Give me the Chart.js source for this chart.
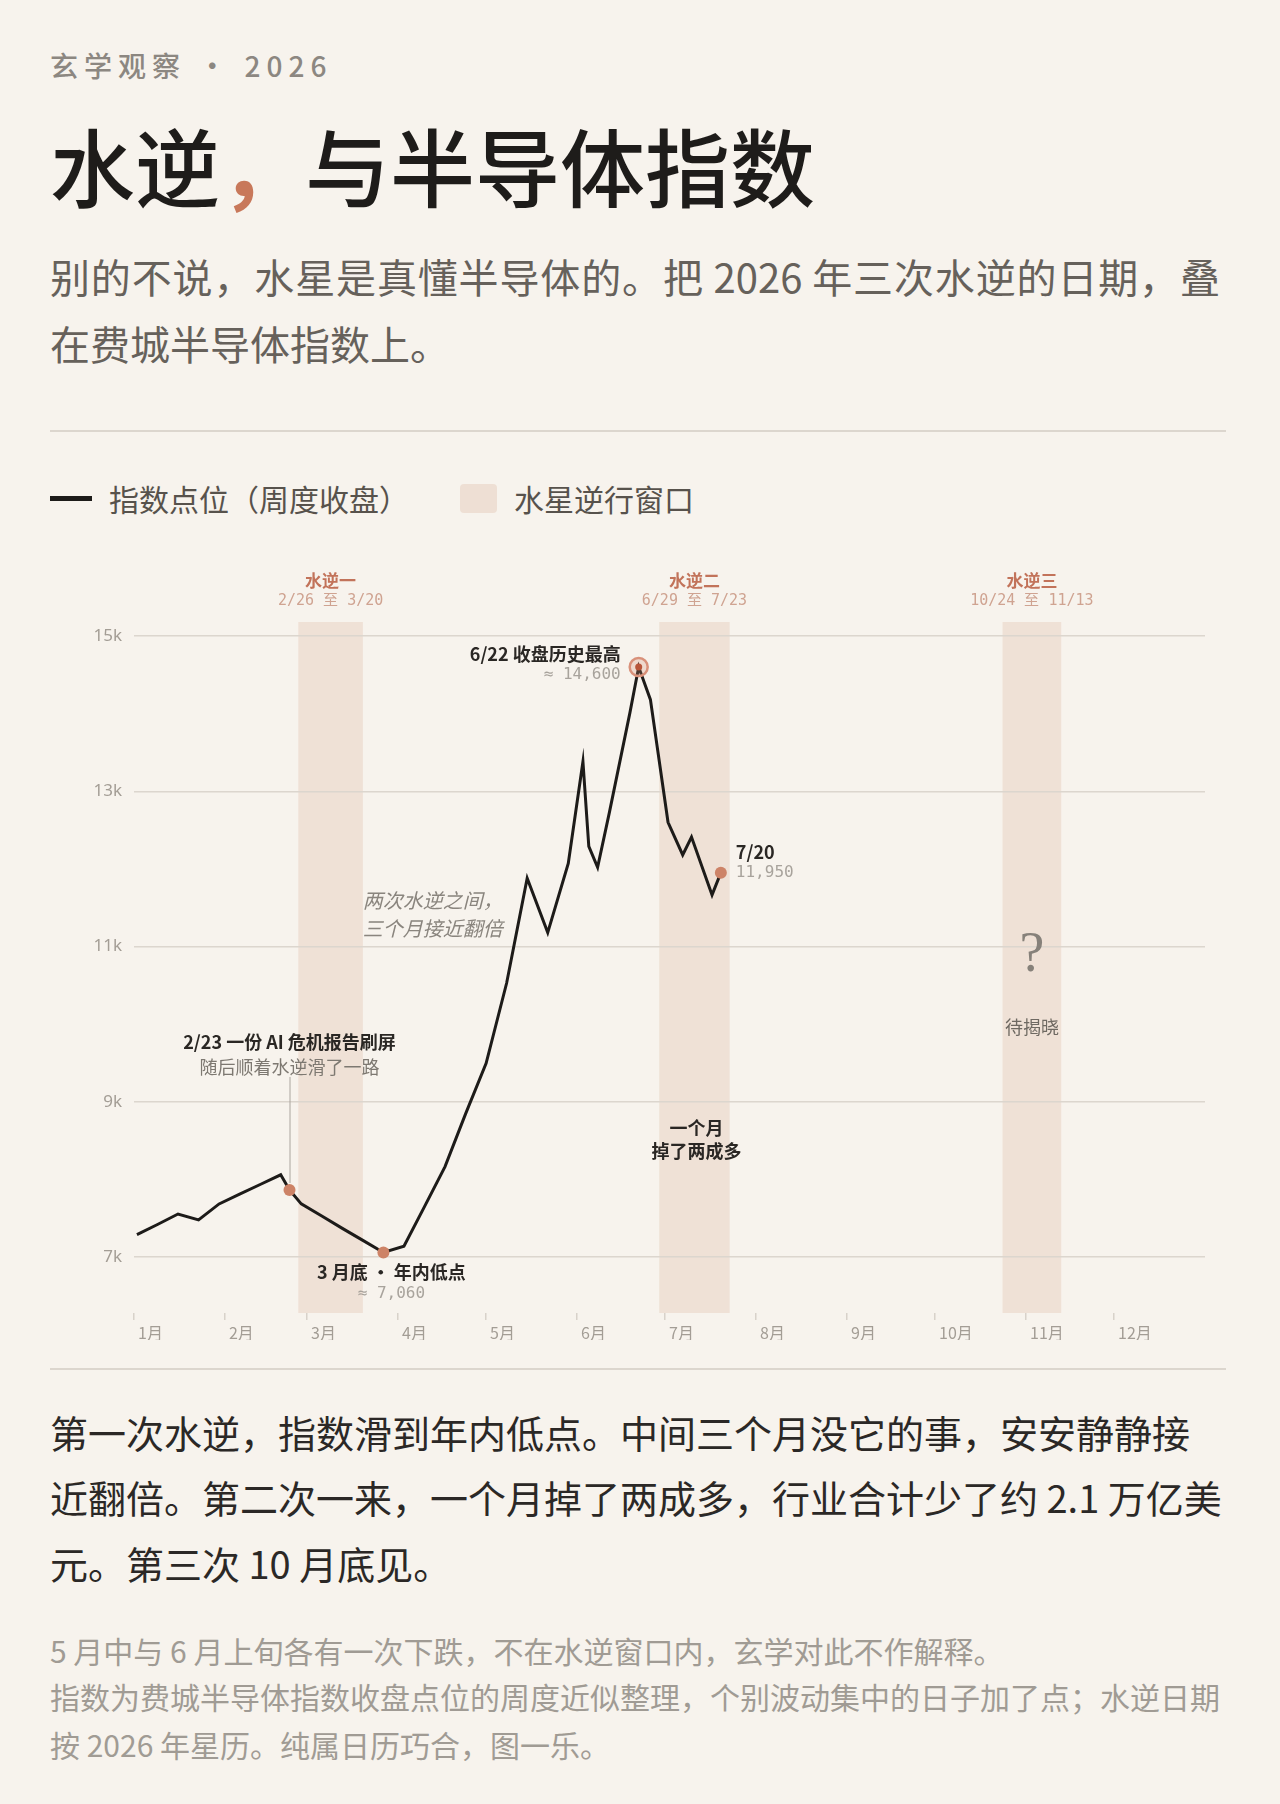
<!DOCTYPE html>
<html lang="zh-CN">
<head>
  <meta charset="UTF-8">
  <title>水逆，与半导体指数</title>
  <script src="https://cdn.jsdelivr.net/npm/chart.js"></script>
  <style>
    body { margin: 0; background: #f7f3ed; }
    .page { position: relative; width: 1280px; height: 1804px; overflow: hidden; font-family: "Noto Sans CJK SC", sans-serif; }
    .abs { position: absolute; left: 50px; white-space: nowrap; }
    .kicker { top: 46px; font-size: 28px; line-height: 38px; color: #8c8781; letter-spacing: 6px; font-weight: 500; }
    .title { top: 112px; font-size: 85px; line-height: 104px; color: #1e1c1a; font-weight: 500; }
    .title .comma { color: #c8785a; font-weight: 700; }
    .sub { font-size: 40px; line-height: 52px; color: #66615b; width: 1170px; }
    .sub.first { text-align: justify; text-align-last: justify; }
    .rule { position: absolute; left: 50px; width: 1176px; height: 2px; background: #dcd6ce; }
    .legend { top: 478px; font-size: 30px; line-height: 40px; color: #57524c; }
    .legend .line { position: absolute; left: 0; top: 18px; width: 42px; height: 5px; background: #1d1b19; }
    .legend .swatch { position: absolute; left: 410px; top: 6px; width: 37px; height: 29px; border-radius: 4px; background: #eedfd4; }
    .legend .t1 { position: absolute; left: 59px; top: 0; }
    .legend .t2 { position: absolute; left: 464px; top: 0; }
    #chartBox { position: absolute; left: 0; top: 540px; width: 1280px; height: 800px; }
    .para { font-size: 38px; line-height: 50px; color: #2b2826; }
    .note { font-size: 30px; line-height: 40px; color: #a09b94; }
  </style>
</head>
<body>
<div class="page">
  <div class="abs kicker">玄学观察 · 2026</div>
  <div class="abs title">水逆<span class="comma">，</span>与半导体指数</div>
  <div class="abs sub first" style="top:250px">别的不说，水星是真懂半导体的。把 2026 年三次水逆的日期，叠</div>
  <div class="abs sub" style="top:317px">在费城半导体指数上。</div>
  <div class="rule" style="top:430px"></div>

  <div class="abs legend">
    <span class="line"></span><span class="t1">指数点位（周度收盘）</span>
    <span class="swatch"></span><span class="t2">水星逆行窗口</span>
  </div>

  <div id="chartBox"><canvas id="chart" width="1280" height="800"></canvas></div>

  <div class="rule" style="top:1368px"></div>
  <div class="abs para" style="top:1407px">第一次水逆，指数滑到年内低点。中间三个月没它的事，安安静静接</div>
  <div class="abs para" style="top:1472px">近翻倍。第二次一来，一个月掉了两成多，行业合计少了约 2.1 万亿美</div>
  <div class="abs para" style="top:1538px">元。第三次 10 月底见。</div>

  <div class="abs note" style="top:1630px">5 月中与 6 月上旬各有一次下跌，不在水逆窗口内，玄学对此不作解释。</div>
  <div class="abs note" style="top:1676px">指数为费城半导体指数收盘点位的周度近似整理，个别波动集中的日子加了点；水逆日期</div>
  <div class="abs note" style="top:1724px">按 2026 年星历。纯属日历巧合，图一乐。</div>
</div>

<script>
  // 周度收盘（另加几个波动集中的日子）
  var dates = ['1/2', '1/9', '1/16', '1/23', '1/30', '2/6', '2/13', '2/20', '2/23', '2/27',
               '3/6', '3/13', '3/20', '3/27', '4/3', '4/10', '4/17', '4/24', '5/1', '5/8',
               '5/15', '5/22', '5/29', '6/3', '6/5', '6/8', '6/12', '6/19', '6/22', '6/26',
               '7/2', '7/7', '7/10', '7/17', '7/20'];
  var closes = [7290, 7420, 7555, 7480, 7685, 7810, 7935, 8060, 7865, 7685,
                7530, 7370, 7215, 7060, 7140, 7650, 8165, 8845, 9495, 10530,
                11880, 11180, 12070, 13380, 12290, 12020, 12725, 14010, 14600, 14180,
                12600, 12180, 12410, 11665, 11950];

  // 标了点的日子
  var markDates = ['2/23', '3/27', '7/20'];
  var peakDate = '6/22';

  // 水逆窗口
  var retroNames = ['水逆一', '水逆二', '水逆三'];
  var retroStart = ['2/26', '6/29', '10/24'];
  var retroEnd = ['3/20', '7/23', '11/13'];

  // 坐标轴
  var monthLabels = ['1月', '2月', '3月', '4月', '5月', '6月', '7月', '8月', '9月', '10月', '11月', '12月'];
  var monthStarts = ['1/1', '2/1', '3/1', '4/1', '5/1', '6/1', '7/1', '8/1', '9/1', '10/1', '11/1', '12/1'];
  var yTicks = [7000, 9000, 11000, 13000, 15000];

  var FONT = '"Noto Sans CJK SC", sans-serif';
  var MONO = '"DejaVu Sans Mono", monospace';

  function dayOfYear(md) {
    var p = md.split('/').map(Number);
    return (Date.UTC(2026, p[0] - 1, p[1]) - Date.UTC(2026, 0, 1)) / 86400000;
  }
  function closeOn(md) { return closes[dates.indexOf(md)]; }

  var linePoints = dates.map(function (d, i) { return { x: dayOfYear(d), y: closes[i] }; });
  var markPoints = markDates.map(function (d) { return { x: dayOfYear(d), y: closeOn(d) }; });
  var peakPoint = [{ x: dayOfYear(peakDate), y: closeOn(peakDate) }];

  function text(ctx, s, x, y, font, color, align) {
    ctx.font = font;
    ctx.fillStyle = color;
    ctx.textAlign = align || 'left';
    ctx.textBaseline = 'middle';
    ctx.fillText(s, x, y);
  }

  // 水逆窗口的底色
  var bandsPlugin = {
    id: 'retroBands',
    beforeDraw: function (chart) {
      var ctx = chart.ctx, a = chart.chartArea, xs = chart.scales.x;
      ctx.save();
      ctx.fillStyle = '#efe1d6';
      for (var i = 0; i < retroStart.length; i++) {
        var x1 = xs.getPixelForValue(dayOfYear(retroStart[i]));
        var x2 = xs.getPixelForValue(dayOfYear(retroEnd[i]));
        ctx.fillRect(x1, a.top, x2 - x1, a.bottom - a.top);
      }
      ctx.restore();
    },
    afterDraw: function (chart) {
      var ctx = chart.ctx, a = chart.chartArea, xs = chart.scales.x;
      ctx.save();
      for (var i = 0; i < retroStart.length; i++) {
        var cx = (xs.getPixelForValue(dayOfYear(retroStart[i])) + xs.getPixelForValue(dayOfYear(retroEnd[i]))) / 2;
        text(ctx, retroNames[i], cx, a.top - 41, '700 17px ' + FONT, '#c2735a', 'center');
        text(ctx, retroStart[i] + ' 至 ' + retroEnd[i], cx, a.top - 21, '400 15px ' + MONO, '#cfa391', 'center');
      }
      ctx.restore();
    }
  };

  // 图上的注释
  var notesPlugin = {
    id: 'notes',
    afterDatasetsDraw: function (chart) {
      var ctx = chart.ctx, xs = chart.scales.x, ys = chart.scales.y;
      var px = function (d) { return xs.getPixelForValue(dayOfYear(d)); };
      var py = function (v) { return ys.getPixelForValue(v); };
      var dark = '#2a2724', grey = '#a8a39c';
      ctx.save();

      // 6/22 最高
      var P = { x: px(peakDate), y: py(closeOn(peakDate)) };
      text(ctx, '6/22 收盘历史最高', P.x - 18, P.y - 13, '700 18px ' + FONT, dark, 'right');
      text(ctx, '≈ 14,600', P.x - 18, P.y + 8, '400 16px ' + MONO, grey, 'right');

      // 7/20
      var Q = { x: px('7/20'), y: py(closeOn('7/20')) };
      text(ctx, '7/20', Q.x + 15, Q.y - 21, '700 18px ' + FONT, dark, 'left');
      text(ctx, '11,950', Q.x + 15, Q.y, '400 16px ' + MONO, grey, 'left');

      // 2/23
      var A = { x: px('2/23'), y: py(closeOn('2/23')) };
      text(ctx, '2/23 一份 AI 危机报告刷屏', A.x, A.y - 148, '700 18px ' + FONT, dark, 'center');
      text(ctx, '随后顺着水逆滑了一路', A.x, A.y - 123, '400 18px ' + FONT, '#7d7871', 'center');
      ctx.strokeStyle = '#aaa59e';
      ctx.lineWidth = 1;
      ctx.beginPath();
      ctx.moveTo(A.x + 0.5, A.y - 113);
      ctx.lineTo(A.x + 0.5, A.y - 7);
      ctx.stroke();

      // 年内低点
      var L = { x: px('3/27'), y: py(closeOn('3/27')) };
      text(ctx, '3 月底 · 年内低点', L.x + 8, L.y + 20, '700 18px ' + FONT, dark, 'center');
      text(ctx, '≈ 7,060', L.x + 8, L.y + 41, '400 16px ' + MONO, grey, 'center');

      // 两次水逆之间
      text(ctx, '两次水逆之间，', px('3/20'), py(11600), 'italic 400 20px ' + FONT, '#8a857e', 'left');
      text(ctx, '三个月接近翻倍', px('3/20'), py(11600) + 28, 'italic 400 20px ' + FONT, '#8a857e', 'left');

      // 第二次水逆
      var c2 = (px(retroStart[1]) + px(retroEnd[1])) / 2 + 2;
      text(ctx, '一个月', c2, py(8660), '700 18px ' + FONT, dark, 'center');
      text(ctx, '掉了两成多', c2, py(8660) + 23, '700 18px ' + FONT, dark, 'center');

      // 第三次水逆
      var c3 = (px(retroStart[2]) + px(retroEnd[2])) / 2;
      text(ctx, '?', c3, py(10870), '400 56px "Liberation Serif", serif', '#86817a', 'center');
      text(ctx, '待揭晓', c3, py(9965), '400 18px ' + FONT, '#6e6962', 'center');

      ctx.restore();
    }
  };

  var ctx = document.getElementById('chart').getContext('2d');
  var chart = new Chart(ctx, {
    type: 'line',
    data: {
      datasets: [{
        label: '指数点位（周度收盘）',
        data: linePoints,
        borderColor: '#1d1b19',
        borderWidth: 3,
        pointRadius: 0,
        tension: 0,
        order: 3
      }, {
        label: '标注',
        data: markPoints,
        showLine: false,
        pointRadius: 6,
        pointBackgroundColor: '#cd8367',
        pointBorderWidth: 0,
        order: 2
      }, {
        label: '最高',
        data: peakPoint,
        showLine: false,
        pointRadius: 9,
        pointBackgroundColor: 'rgba(214, 140, 112, 0.25)',
        pointBorderColor: '#d9917a',
        pointBorderWidth: 2.5,
        order: 1
      }, {
        label: '最高点',
        data: peakPoint,
        showLine: false,
        pointRadius: 3.5,
        pointBackgroundColor: '#b8563a',
        pointBorderWidth: 0,
        order: 0
      }]
    },
    options: {
      responsive: false,
      animation: false,
      devicePixelRatio: 1,
      layout: { padding: { top: 82, right: 75, bottom: 0, left: 0 } },
      plugins: { legend: { display: false }, tooltip: { enabled: false } },
      scales: {
        x: {
          type: 'linear',
          min: 0,
          max: 365,
          afterBuildTicks: function (s) { s.ticks = monthStarts.map(function (d) { return { value: dayOfYear(d) }; }); },
          afterFit: function (s) { s.height = 27; },
          ticks: {
            callback: function (v, i) { return monthLabels[i]; },
            align: 'start',
            labelOffset: 4,
            autoSkip: false,
            maxRotation: 0,
            padding: 3,
            color: '#a39d95',
            font: { family: FONT, size: 16 }
          },
          grid: { drawOnChartArea: false, drawTicks: true, tickLength: 7, color: '#d8d2ca', lineWidth: 1.5 },
          border: { display: false }
        },
        y: {
          min: 6280,
          max: 15180,
          afterBuildTicks: function (s) { s.ticks = yTicks.map(function (v) { return { value: v }; }); },
          afterFit: function (s) { s.width = 134; },
          ticks: {
            callback: function (v) { return (v / 1000) + 'k'; },
            padding: 12,
            color: '#a39d95',
            font: { family: '"Noto Sans", sans-serif', size: 17 }
          },
          grid: { color: '#dcd6ce', lineWidth: 1.5, drawTicks: false },
          border: { display: false }
        }
      }
    },
    plugins: [bandsPlugin, notesPlugin]
  });
</script>
</body>
</html>
